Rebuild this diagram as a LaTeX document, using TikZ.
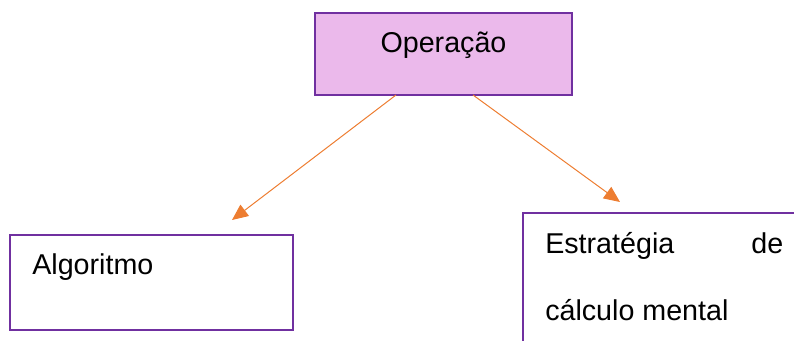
\documentclass[tikz,border=0pt]{standalone}
\usepackage{fontspec}
\setmainfont{Liberation Sans}
\usepackage{tikz}
\usetikzlibrary{arrows.meta}
\usetikzlibrary{calc}
\usetikzlibrary{positioning}
\usepackage{xcolor}
\definecolor{tikz-border}{HTML}{7030A0}
\definecolor{tikz-fill}{HTML}{EBB9EB}
\definecolor{tikz-arrow}{HTML}{ED7D31}
\tikzset{every text node part/.style={font={\fontsize{21.5}{50.25}\selectfont}}}
\tikzstyle{block} = [draw=tikz-border, line width=1.5pt, inner sep=0pt, outer sep=0pt, anchor=north west]
\tikzstyle{txt} = [inner sep=0pt, anchor=base west, align=left]
\tikzstyle{ln} = [draw=tikz-arrow, line width=0.75pt, arrows={-Triangle[length=12pt, width=10.5pt]}]

\begin{document}
\begin{tikzpicture}[x=0.75pt, y=-0.75pt]
      \useasboundingbox (0,0) rectangle (794,340);
      \clip (0,0) rectangle (794,340);
      % boxes
      \node[block, fill=tikz-fill, minimum width=192.75pt, minimum height=61.5pt] (op) at (315,13) {};
      \node[block, fill=white, minimum width=212.25pt, minimum height=71.25pt] (alg) at (10,235) {};
      \node[block, fill=white, minimum width=212.25pt, minimum height=112.5pt] (est) at (523,213) {};
      % texts
      \node[inner sep=0pt, anchor=base] (opText) at ($(op.north)+(0,39)$) {Operação};
      \node[txt] (algText) at ($(alg.north west)+(22,39)$) {Algoritmo};
      \node[txt] (estText) at ($(est.north west)+(22,107)$) {\makebox[178.5pt][s]{Estratégia de}\\cálculo mental};
      % arrows
      \coordinate (algTip) at ($(alg.north west)+(222,-15)$);
      \coordinate (estTip) at ($(est.north west)+(97,-11)$);
      \draw[ln] ($(op.south)+(-47.5,0)$) -- (algTip);
      \draw[ln] ($(op.south)+(29.5,0)$) -- (estTip);
    \end{tikzpicture}
\end{document}
